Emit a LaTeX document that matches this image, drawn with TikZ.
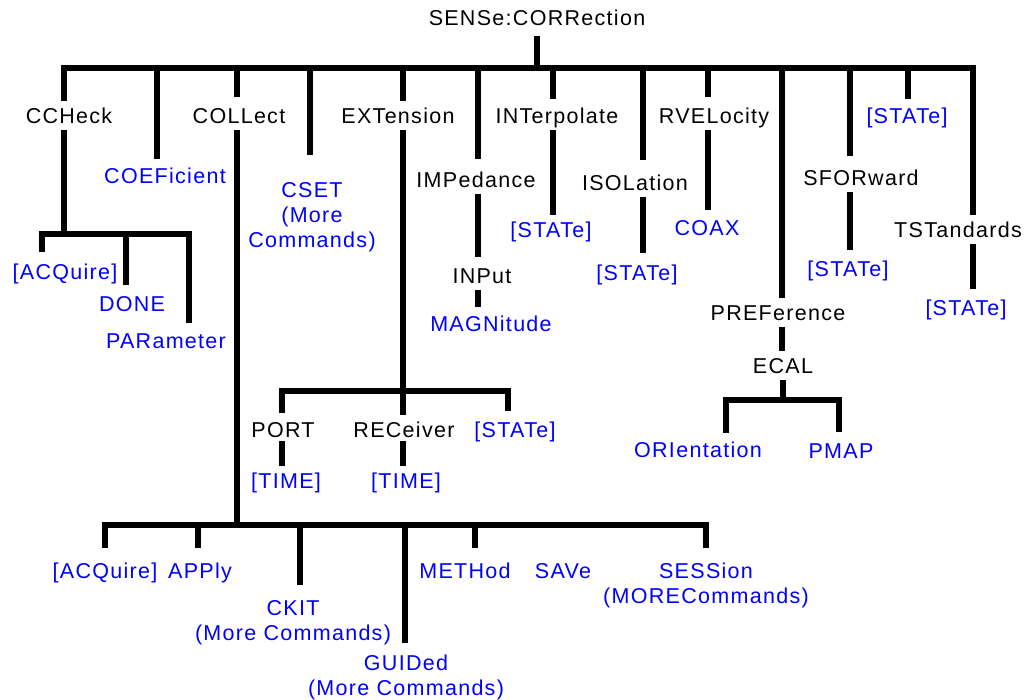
\documentclass[tikz,border=0pt]{standalone}
\usepackage{fontspec}
\setmainfont{Liberation Sans}[LetterSpace=6.0]
\tikzset{
      wire/.style = { line width=6.5pt, black, line join=miter },
      cmd/.style  = { inner sep=0pt, outer ysep=7pt, text height=15pt, text depth=0pt,
                      font=\fontsize{21.5}{25}\selectfont },
      leaf/.style = { cmd, text=blue },
      more/.style = { inner sep=0pt, outer ysep=7pt, anchor=north, align=center, text=blue,
                      font=\fontsize{21.5}{25}\selectfont }
    }

\begin{document}
\begin{tikzpicture}[x=1pt, y=-1pt]
      \useasboundingbox (0,0) rectangle (1026,700);

      % Points on the bars
      \foreach \n/\x in {b1/64, b2/157, b3/237, b4/310, b5/403, b6/478, b7/553,
                         b8/643, b9/708, b10/782, b11/850, b12/908, b13/973}
        \coordinate (\n) at (\x,68);
      \foreach \n/\x in {c0/64, c1/42, c2/126, c3/189}
        \coordinate (\n) at (\x,234);
      \foreach \n/\x in {e1/282, e0/403, e2/508}
        \coordinate (\n) at (\x,391);
      \foreach \n/\x in {r1/726, r2/839}
        \coordinate (\n) at (\x,400);
      \foreach \n/\x in {k1/105, k2/198, k0/237, k3/300, k4/405, k5/475, k6/706}
        \coordinate (\n) at (\x,525);

      % Draw all commands
      \node[cmd]  (ttl)  at (537,18)  {SENSe:CORRection};
      \node[cmd]  (cc)   at (69,116)  {CCHeck};
      \node[leaf] (coef) at (165,176) {COEFicient};
      \node[cmd]  (coll) at (239,116) {COLLect};
      \node[more] (cset) at (312,175) {CSET\\(More\\Commands)};
      \node[cmd]  (ext)  at (398,116) {EXTension};
      \node[cmd]  (imp)  at (476,180) {IMPedance};
      \node[cmd]  (intp) at (557,116) {INTerpolate};
      \node[cmd]  (iso)  at (635,183) {ISOLation};
      \node[cmd]  (rvel) at (714,116) {RVELocity};
      \node[cmd]  (pref) at (778,313) {PREFerence};
      \node[cmd]  (sfor) at (861,178) {SFORward};
      \node[cmd]  (tst)  at (958,230) {TSTandards};

      \foreach \n/\x/\y in {stTop/907/116, stInt/551/230, stIso/637/273,
                            stSf/848/269, stTs/966/308, stExt/515/430}
        \node[leaf] (\n) at (\x,\y) {[STATe]};

      \node[leaf] (acq1)  at (65,272)  {[ACQuire]};
      \node[leaf] (done)  at (132,304) {DONE};
      \node[leaf] (par)   at (166,341) {PARameter};
      \node[cmd]  (inp)   at (482,276) {INPut};
      \node[leaf] (mag)   at (491,324) {MAGNitude};
      \node[leaf] (coax)  at (707,228) {COAX};
      \node[cmd]  (ecal)  at (783,366) {ECAL};
      \node[leaf] (ori)   at (698,450) {ORIentation};
      \node[leaf] (pmap)  at (841,451) {PMAP};
      \node[cmd]  (port)  at (283,430) {PORT};
      \node[cmd]  (rec)   at (404,430) {RECeiver};
      \node[leaf] (time1) at (286,481) {[TIME]};
      \node[leaf] (time2) at (406,481) {[TIME]};

      \node[leaf] (acq2) at (105,571) {[ACQuire]};
      \node[leaf] (appl) at (200,571) {APPly};
      \node[more] (ckit) at (293,593) {CKIT\\(More Commands)};
      \node[more] (guid) at (406,648) {GUIDed\\(More Commands)};
      \node[leaf] (meth) at (465,571) {METHod};
      \node[leaf] (save) at (563,571) {SAVe};
      \node[more] (sess) at (706,556) {SESSion\\(MORECommands)};

      % Draw the top bar
      \draw[wire, shorten <=3.5pt] (ttl.south) -- (ttl.south |- b1);
      \draw[wire] (b1 |- cc.north) -- (b1) -- (b13) -- (b13 |- tst.north);
      \foreach \b/\n/\g in {b2/coef/2pt, b3/coll/4pt, b4/cset/20pt, b5/ext/0pt,
                            b6/imp/6pt, b7/intp/2pt, b8/iso/8pt, b9/rvel/4pt,
                            b10/pref/0pt, b11/sfor/7pt, b12/stTop/2pt}
        \draw[wire, shorten >=\g] (\b) -- (\b |- \n.north);

      % Draw the second level
      \foreach \b/\a/\n/\g in {b6/imp/inp/4.5pt, b6/inp/mag/2.5pt, b7/intp/stInt/0pt,
                               b8/iso/stIso/5.5pt, b9/rvel/coax/3.5pt, b10/pref/ecal/0pt,
                               b11/sfor/stSf/4.5pt, b13/tst/stTs/4.5pt}
        \draw[wire, shorten >=\g] (\b |- \a.south) -- (\b |- \n.north);

      % CCHeck
      \draw[wire] (b1 |- cc.south) -- (c0);
      \draw[wire, shorten <=5.5pt, shorten >=3.5pt] (c1 |- acq1.north) -- (c1) -- (c3) -- (c3 |- par.north);
      \draw[wire, shorten >=4.5pt] (c2) -- (c2 |- done.north);

      % EXTension
      \draw[wire] (e0 |- ext.south) -- (e0 |- rec.north);
      \draw[wire, shorten <=2.5pt, shorten >=4.5pt] (e1 |- port.north) -- (e1) -- (e2) -- (e2 |- stExt.north);
      \draw[wire, shorten <=-3pt] (e1 |- port.south) -- (e1 |- time1.north);
      \draw[wire, shorten <=-3pt] (e0 |- rec.south) -- (e0 |- time2.north);

      % ECAL
      \draw[wire] (ecal.south) -- (ecal.south |- r1);
      \draw[wire, shorten <=2.5pt, shorten >=4.5pt] (r1 |- ori.north) -- (r1) -- (r2) -- (r2 |- pmap.north);

      % COLLect
      \draw[wire] (b3 |- coll.south) -- (k0);
      \draw[wire, shorten <=8.5pt, shorten >=8.5pt] (k1 |- acq2.north) -- (k1) -- (k6) -- (k6 |- sess.north);
      \foreach \k/\n/\g in {k2/appl/8.5pt, k3/ckit/8pt, k4/guid/5pt, k5/meth/8.5pt}
        \draw[wire, shorten >=\g] (\k) -- (\k |- \n.north);
\end{tikzpicture}
\end{document}
